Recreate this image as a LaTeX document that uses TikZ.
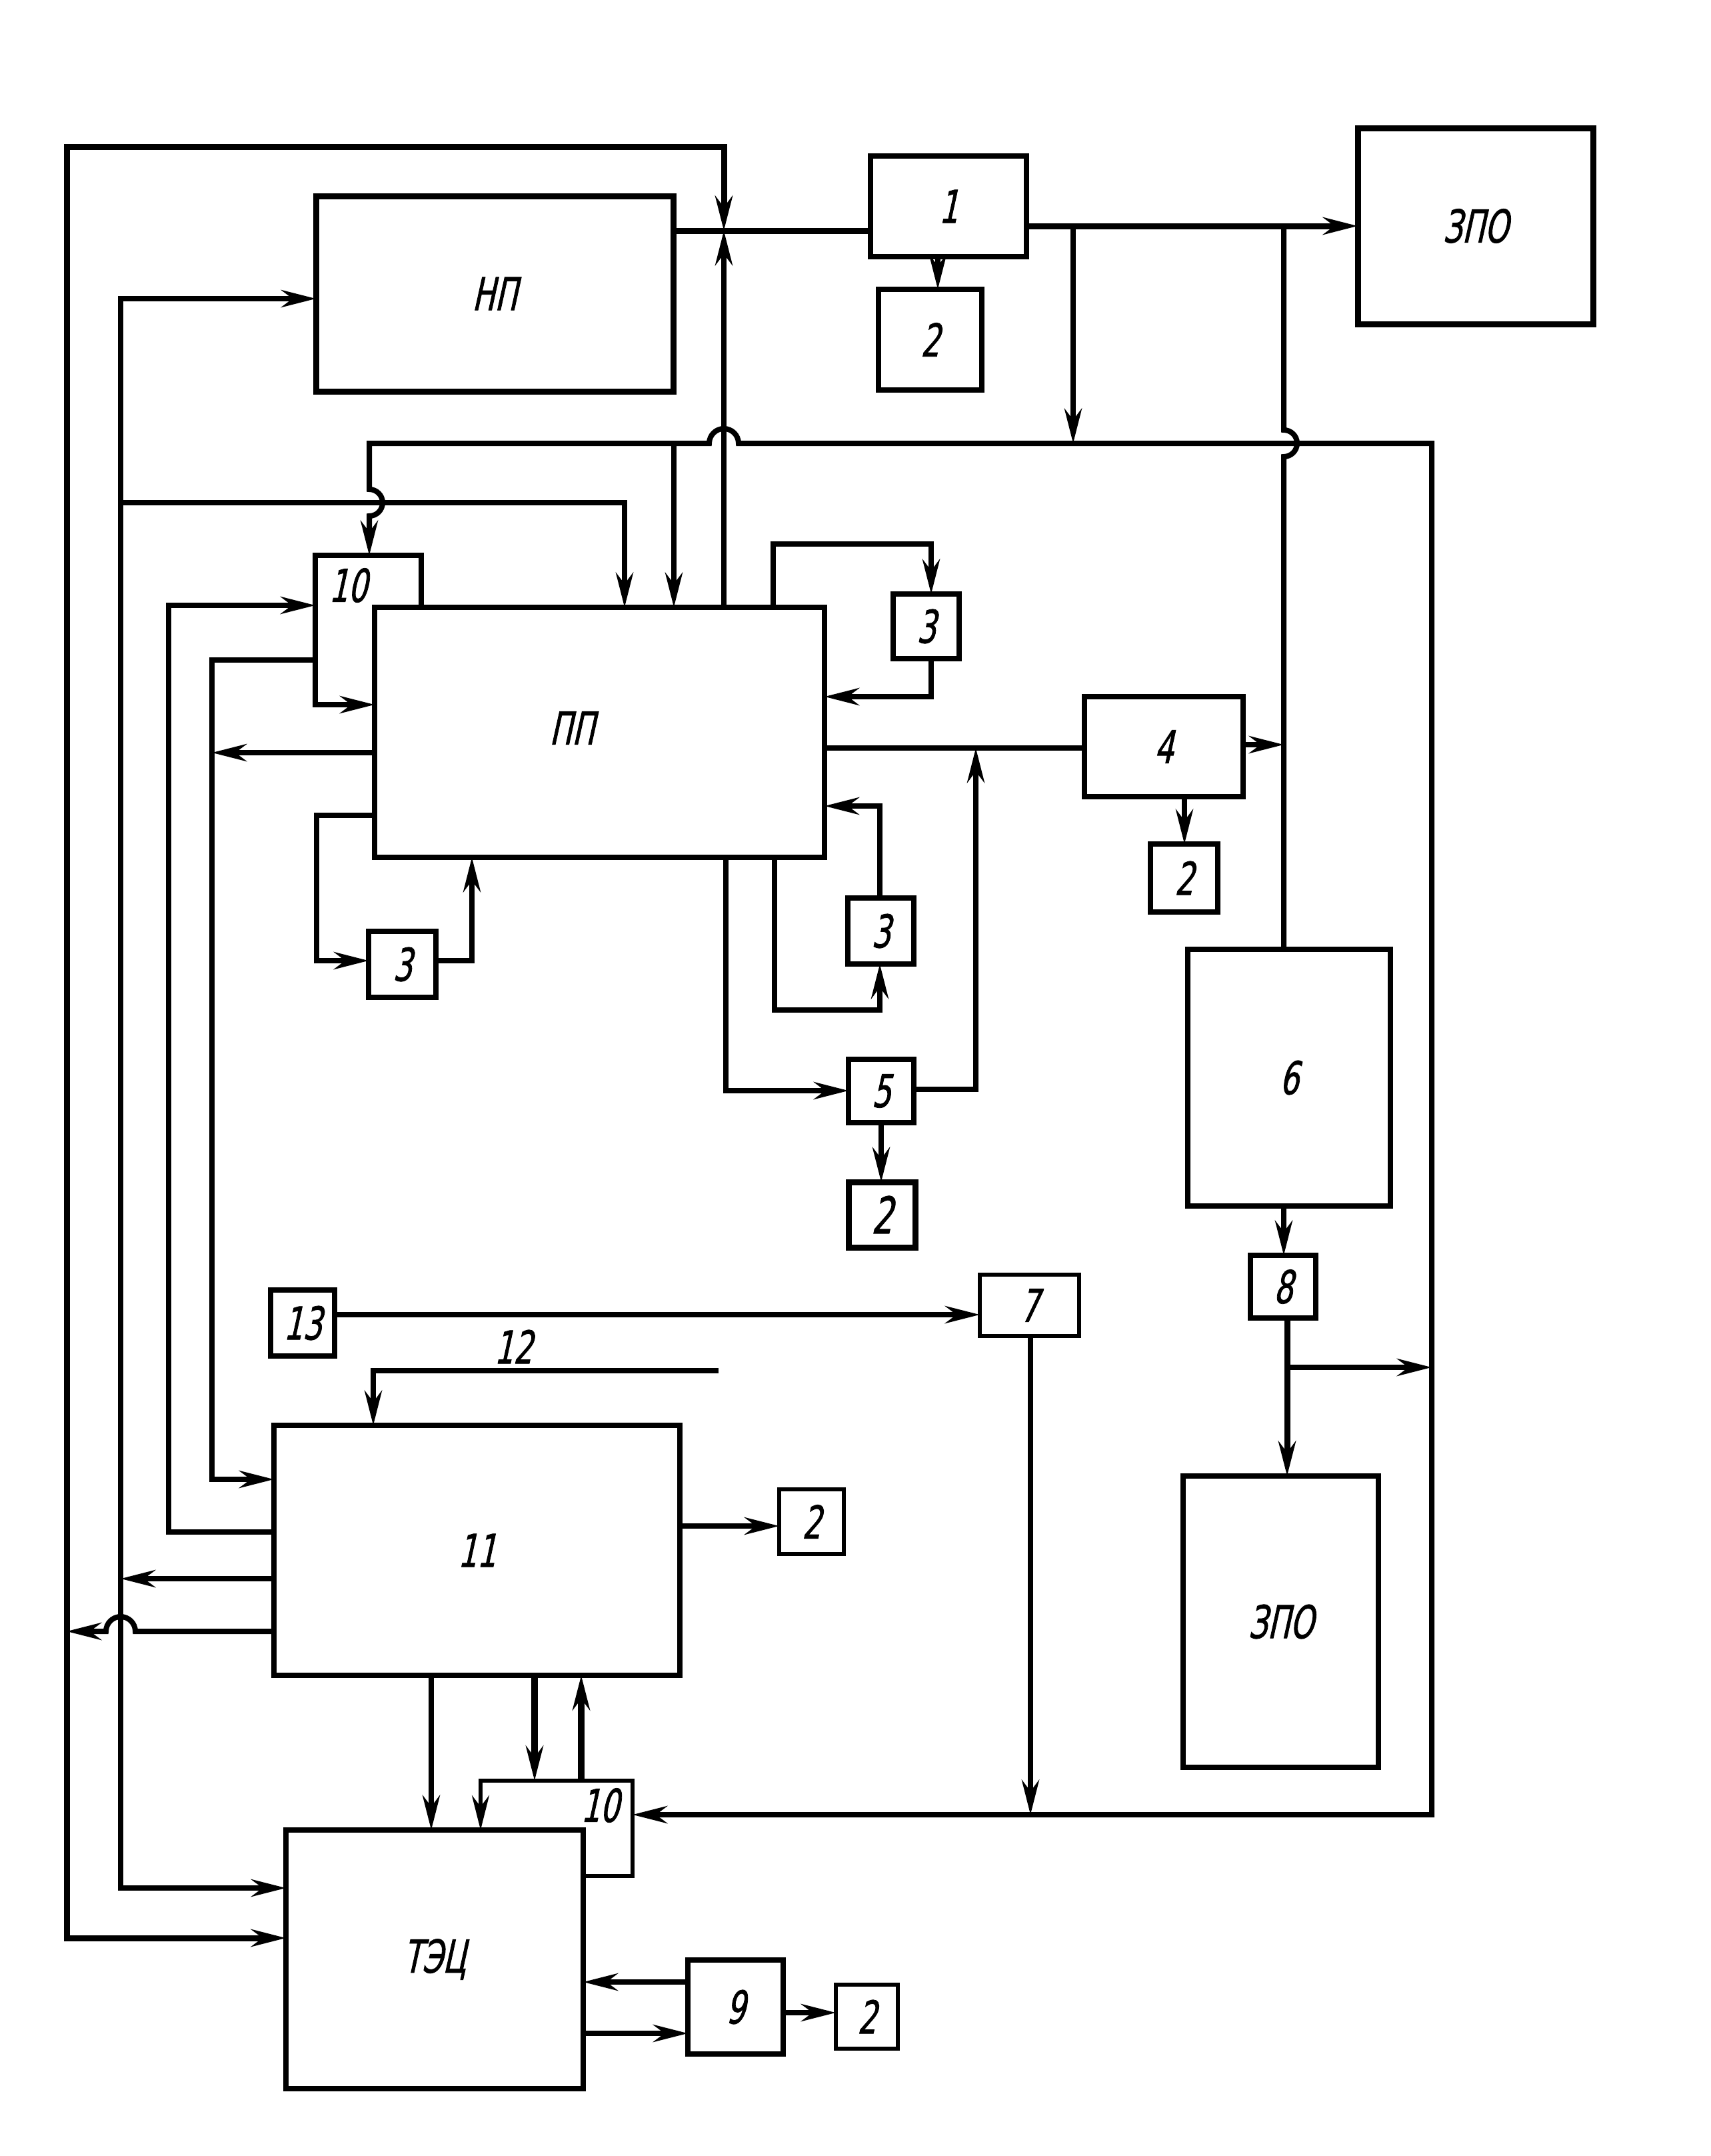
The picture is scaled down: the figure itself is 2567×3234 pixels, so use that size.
\documentclass[tikz,border=0pt]{standalone}
\usepackage{fontspec}
\setmainfont{DejaVu Sans}[FakeSlant=0.22,FakeStretch=0.66,FakeBold=1.2]
\usetikzlibrary{arrows.meta}
\begin{document}
\begin{tikzpicture}[x=1pt,y=-1pt,
  ln/.style={line width=8pt},
  tip/.tip={Stealth[length=52pt,width=26pt,inset=17pt]},
  arr/.style={ln,-tip},
  darr/.style={ln,tip-tip},
  box/.style={draw,line width=8pt,inner sep=0pt,outer sep=0pt,font=\fontsize{68}{68}\selectfont},
  lbl/.style={inner sep=0pt,font=\fontsize{68}{68}\selectfont}]
\fill[white] (0,0) rectangle (2567,3234);
\useasboundingbox (0,0) rectangle (2567,3234);

% boxes
\node[box,line width=9pt,minimum width=536pt,minimum height=293pt] (np) at (742,440.5) {НП};
\node[box,minimum width=234pt,minimum height=151pt] (b1) at (1423,309.5) {1};
\node[box,minimum width=155pt,minimum height=151pt] (b2a) at (1395.5,509.5) {2};
\node[box,line width=9pt,minimum width=353pt,minimum height=294pt] (zpo1) at (2213.5,339) {ЗПО};
\node[box,minimum width=675pt,minimum height=375pt] (pp) at (899.5,1098.5) {};
\node[lbl] (lpp) at (858,1092) {ПП};
\node[box,minimum width=99pt,minimum height=97pt] (b3a) at (1389.5,939.5) {3};
\node[box,minimum width=99pt,minimum height=99pt] (b3b) at (1321.5,1396.5) {3};
\node[box,minimum width=101pt,minimum height=99pt] (b3c) at (603.5,1446.5) {3};
\node[box,minimum width=238pt,minimum height=150pt] (b4) at (1746,1120) {4};
\node[box,minimum width=101pt,minimum height=102pt] (b2b) at (1776.5,1317) {2};
\node[box,minimum width=98pt,minimum height=95pt] (b5) at (1322,1636.5) {5};
\node[box,line width=9pt,minimum width=100pt,minimum height=98pt,font=\fontsize{76}{76}\selectfont] (b2c) at (1323,1822) {2};
\node[box,minimum width=304pt,minimum height=385pt] (b6) at (1934,1616.5) {6};
\node[box,minimum width=96pt,minimum height=99pt] (b13) at (454,1984.5) {13};
\node[box,line width=6pt,minimum width=149pt,minimum height=92pt] (b7) at (1544.5,1958) {7};
\node[box,minimum width=98pt,minimum height=94pt] (b8) at (1925,1930) {8};
\node[box,minimum width=609pt,minimum height=375pt] (b11) at (715.5,2325.5) {11};
\node[box,line width=6pt,minimum width=97pt,minimum height=97pt] (b2d) at (1217.5,2282.5) {2};
\node[box,minimum width=293pt,minimum height=437pt] (zpo2) at (1921.5,2432.5) {ЗПО};
\node[box,minimum width=446pt,minimum height=388pt] (tec) at (652,2939) {ТЭЦ};
\node[box,minimum width=143pt,minimum height=141pt] (b9) at (1103.5,3010.5) {9};
\node[box,line width=6pt,minimum width=93pt,minimum height=96pt] (b2e) at (1300.5,3025) {2};
\node[lbl] (l10a) at (522,878) {10};
\node[lbl] (l10b) at (900,2708) {10};
\node[lbl] (l12) at (770,2020) {12};

% partial boxes 10
\draw[arr] (632,0 |- pp.north) -- (632,833) -- (473,833) -- (473,1057) -- (pp.west |- 0,1057);
\draw[arr,line width=6pt] (tec.east |- 0,2814) -- (949,2814) -- (949,2671) -- (721,2671) -- (721,0 |- tec.north);

% top area
\coordinate (xj) at (1086,346);
\draw[ln,line width=9pt] (np.east |- 0,346) -- (b1.west |- 0,346);
\draw[darr,line width=9pt] (tec.west |- 0,2907) -- (100,2907) -- (100,220) -- (1086,220) -- (xj);
\draw[arr] (1086,0 |- pp.north) -- (xj);
\draw[arr,line width=9pt] (b1.east |- 0,339) -- (zpo1.west |- 0,339);
\draw[arr] (1407,0 |- b1.south) -- (1407,0 |- b2a.north);
\draw[arr] (1610,339) -- (1610,665);
\draw[ln] (1926,339) -- (1926,645) arc[start angle=-90,end angle=90,radius=20] -- (1926,0 |- b6.north);
\draw[arr] (b4.east |- 0,1117) -- (1926,1117);

% bus
\coordinate (b10r) at (949,2722);
\draw[darr] (554,833) -- (554,774) arc[start angle=90,end angle=-90,radius=20] -- (554,665)
  -- (1064,665) arc[start angle=180,end angle=360,radius=22] -- (2148,665) -- (2148,2722) -- (b10r);
\draw[arr] (1011,665) -- (1011,0 |- pp.north);

% left feeds
\draw[darr] (tec.west |- 0,2832) -- (181,2832) -- (181,448) -- (np.west |- 0,448);
\draw[arr] (181,754) -- (937,754) -- (937,0 |- pp.north);
\draw[arr] (b11.west |- 0,2368) -- (181,2368);
\draw[arr] (b11.west |- 0,2447) -- (203,2447) arc[start angle=0,end angle=-180,radius=22] -- (100,2447);
\draw[arr] (b11.west |- 0,2298) -- (253,2298) -- (253,908) -- (473,908);
\draw[arr] (473,990) -- (318,990) -- (318,2219) -- (b11.west |- 0,2219);
\draw[arr] (pp.west |- 0,1129) -- (318,1129);

% around PP
\draw[arr] (pp.west |- 0,1223) -- (475,1223) -- (475,1441) -- (b3c.west |- 0,1441);
\draw[arr] (b3c.east |- 0,1441) -- (708,1441) -- (708,0 |- pp.south);
\draw[arr] (1160,0 |- pp.north) -- (1160,816) -- (1397,816) -- (1397,0 |- b3a.north);
\draw[arr] (1397,0 |- b3a.south) -- (1397,1045) -- (pp.east |- 0,1045);
\draw[ln] (pp.east |- 0,1122) -- (b4.west |- 0,1122);
\draw[arr] (b5.east |- 0,1634) -- (1464,1634) -- (1464,1122);
\draw[arr] (1777,0 |- b4.south) -- (1777,0 |- b2b.north);
\draw[arr] (1320,0 |- b3b.north) -- (1320,1209) -- (pp.east |- 0,1209);
\draw[arr] (1162,0 |- pp.south) -- (1162,1515) -- (1320,1515) -- (1320,0 |- b3b.south);
\draw[arr] (1089,0 |- pp.south) -- (1089,1636) -- (b5.west |- 0,1636);
\draw[arr] (1322,0 |- b5.south) -- (1322,0 |- b2c.north);

% right side
\draw[arr] (1926,0 |- b6.south) -- (1926,0 |- b8.north);
\draw[arr,line width=9pt] (1931,0 |- b8.south) -- (1931,0 |- zpo2.north);
\draw[arr] (1931,2051) -- (2148,2051);

% lower
\draw[arr] (b13.east |- 0,1972) -- (b7.west |- 0,1972);
\draw[arr] (1546,0 |- b7.south) -- (1546,2722);
\draw[arr] (1078,2056) -- (560,2056) -- (560,0 |- b11.north);
\draw[arr] (b11.east |- 0,2289) -- (b2d.west |- 0,2289);
\draw[arr] (647,0 |- b11.south) -- (647,0 |- tec.north);
\draw[arr,line width=10pt] (802,0 |- b11.south) -- (802,2671);
\draw[arr,line width=10pt] (872,2671) -- (872,0 |- b11.south);
\draw[arr] (b9.west |- 0,2973) -- (tec.east |- 0,2973);
\draw[arr] (tec.east |- 0,3050) -- (b9.west |- 0,3050);
\draw[arr] (b9.east |- 0,3019) -- (b2e.west |- 0,3019);
\end{tikzpicture}
\end{document}
